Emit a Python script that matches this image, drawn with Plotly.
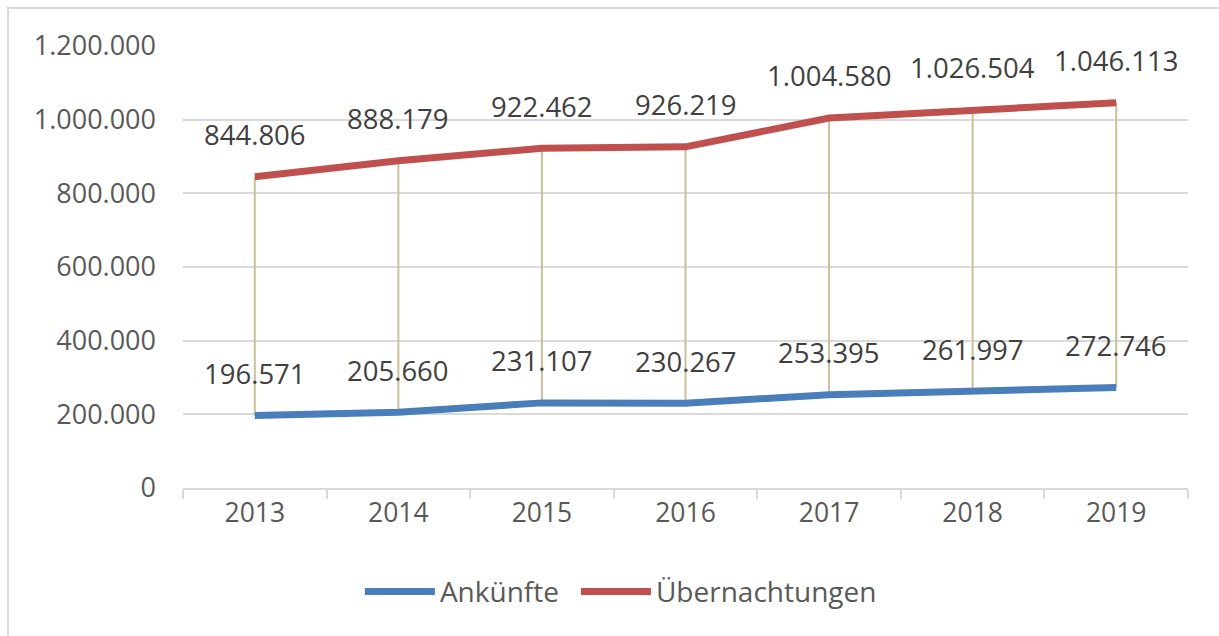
import plotly.graph_objects as go

years = ["2013", "2014", "2015", "2016", "2017", "2018", "2019"]
ankuenfte = [196571, 205660, 231107, 230267, 253395, 261997, 272746]
uebernachtungen = [844806, 888179, 922462, 926219, 1004580, 1026504, 1046113]
y_ticks = [0, 200000, 400000, 600000, 800000, 1000000, 1200000]


def de_fmt(v):
    return f"{v:,}".replace(",", ".")


FONT = "Open Sans"
BLUE = "#4a7ebb"
RED = "#c0504d"
DROP = "#c9c09a"
GRID = "#d9d9d9"

fig = go.Figure()

# drop lines between the two series
dx, dy = [], []
for c, a, u in zip(years, ankuenfte, uebernachtungen):
    dx += [c, c, None]
    dy += [a, u, None]
fig.add_trace(go.Scatter(x=dx, y=dy, mode="lines", line=dict(color=DROP, width=2),
                         showlegend=False, hoverinfo="skip"))

fig.add_trace(go.Scatter(x=years, y=ankuenfte, mode="lines", name="Ankünfte",
                         line=dict(color=BLUE, width=7), legend="legend"))
fig.add_trace(go.Scatter(x=years, y=uebernachtungen, mode="lines", name="Übernachtungen",
                         line=dict(color=RED, width=7), legend="legend2"))

annotations = []
for series in (ankuenfte, uebernachtungen):
    for i, v in enumerate(series):
        annotations.append(dict(x=i, y=v, xref="x", yref="y", text=de_fmt(v),
                                showarrow=False, yshift=42,
                                font=dict(family=FONT, size=27.5, color="#404040")))

legend_common = dict(orientation="h", xanchor="left", y=-0.235, yanchor="middle",
                     font=dict(family=FONT, size=28, color="#595959"), itemwidth=70)

fig.update_layout(
    width=1219, height=636,
    margin=dict(l=183, r=31, t=46, b=148),
    paper_bgcolor="white", plot_bgcolor="white",
    font=dict(family=FONT, color="#595959"),
    annotations=annotations,
    showlegend=True,
    legend=dict(x=0.176, **legend_common),
    legend2=dict(x=0.391, **legend_common),
    shapes=[dict(type="rect", xref="paper", yref="paper",
                 x0=-0.1741, x1=1.04, y0=-0.36, y1=1.086,
                 line=dict(color=GRID, width=2), fillcolor="rgba(0,0,0,0)", layer="below")],
)
fig.update_xaxes(type="category", showgrid=False, showline=True, linecolor=GRID, linewidth=2,
                 ticks="outside", tickson="boundaries", ticklen=9, tickcolor=GRID, tickwidth=2,
                 tickfont=dict(family=FONT, size=26.5, color="#595959"), range=[-0.5, 6.5])
fig.update_yaxes(range=[0, 1200000], tickvals=y_ticks, ticktext=[de_fmt(v) for v in y_ticks],
                 showgrid=True, gridcolor=GRID, gridwidth=2, zeroline=False, showline=False,
                 ticks="", ticklabelstandoff=26,
                 tickfont=dict(family=FONT, size=27, color="#595959"))

fig.write_html("out.html", config={"displayModeBar": False},
               post_script="document.body.style.margin='0';")
